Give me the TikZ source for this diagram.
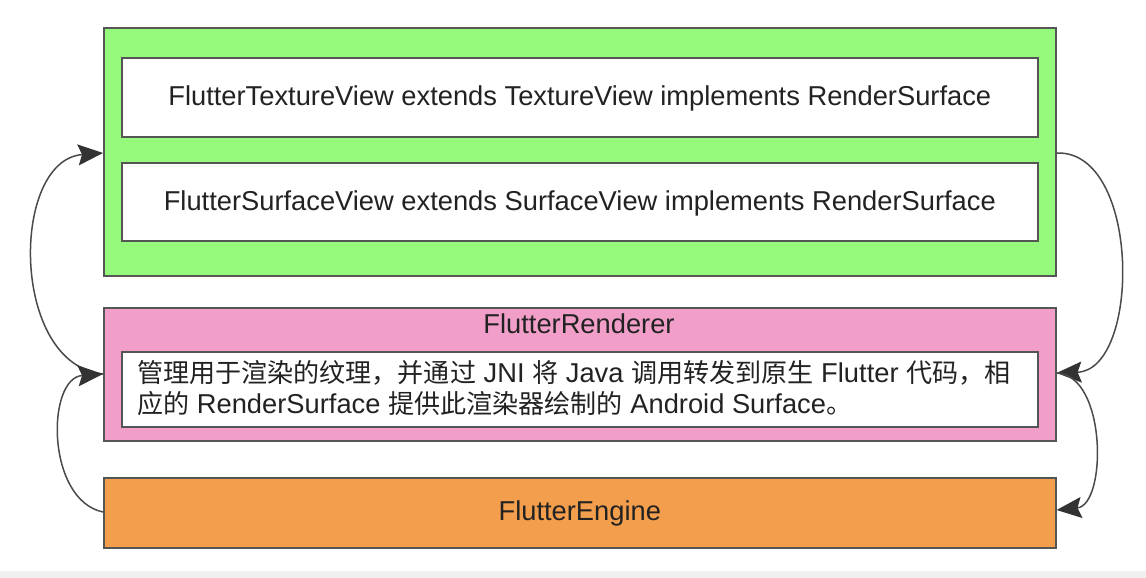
\documentclass[tikz,border=0pt]{standalone}
\usepackage{fontspec}
\setmainfont{Liberation Sans}
\newfontfamily\cjk[Scale=0.955]{Noto Sans CJK SC}
\usetikzlibrary{arrows.meta}
\definecolor{gfill}{HTML}{95F97B}
\definecolor{pfill}{HTML}{F19FC9}
\definecolor{ofill}{HTML}{F29E4C}
\definecolor{edge}{HTML}{555555}
\definecolor{txt}{HTML}{222222}
\definecolor{arr}{HTML}{4A4A4A}
\definecolor{tip}{HTML}{333333}
\definecolor{strip}{HTML}{F0F0F0}
\tikzset{
  box/.style={draw=edge, line width=1.6pt, anchor=north west, inner sep=0pt},
  inbox/.style={box, fill=white},
  lbl/.style={text=txt, font=\fontsize{27.3}{31}\selectfont, inner sep=0pt},
  conn/.style={draw=arr, line width=1.5pt, arrows={-Stealth[length=25pt,width=21pt,inset=4pt,color=tip,fill=tip]}},
}
\begin{document}
\begin{tikzpicture}
\useasboundingbox (0pt,0pt) rectangle (1146pt,-578pt);
\begin{scope}[x=1pt,y=-1pt]
\fill[white] (0,0) rectangle (1146,578);
\fill[strip] (0,571) rectangle (1146,578);
% outer boxes
\node[box, fill=gfill, minimum width=952pt, minimum height=248pt] (green) at (103,27) {};
\node[box, fill=pfill, minimum width=952pt, minimum height=133pt] (pink) at (103,307) {};
\node[box, fill=ofill, minimum width=952pt, minimum height=70pt] (engine) at (103,477) {};
% inner boxes
\node[inbox, minimum width=916pt, minimum height=79pt] (tex) at (121,57) {};
\node[inbox, minimum width=916pt, minimum height=78pt] (surf) at (121,162) {};
\node[inbox, minimum width=916pt, minimum height=75pt] (desc) at (121,351) {};
% labels
\node[lbl, yshift=-1.5pt] (textex) at (tex.center) {FlutterTextureView extends TextureView implements RenderSurface};
\node[lbl, yshift=-1.5pt] (textsurf) at (surf.center) {FlutterSurfaceView extends SurfaceView implements RenderSurface};
\node[lbl] (textrend) at (579,324) {FlutterRenderer};
\node[lbl, yshift=-1pt] (texteng) at (engine.center) {FlutterEngine};
\node[lbl, anchor=west, align=left] (textdesc) at (137,388.5) {{\cjk 管理用于渲染的纹理，并通过} JNI {\cjk 将} Java {\cjk 调用转发到原生} Flutter {\cjk 代码，相}\\{\cjk 应的} RenderSurface {\cjk 提供此渲染器绘制的} Android Surface{\cjk 。}};
% connector end points
\coordinate (pinkL) at ([yshift=-67pt]pink.north west);
\coordinate (greenL) at ([yshift=-126pt]green.north west);
\coordinate (engL) at ([yshift=-35pt]engine.north west);
\coordinate (greenR) at ([yshift=-126pt]green.north east);
\coordinate (pinkR) at ([yshift=-66pt]pink.north east);
\coordinate (engR) at ([yshift=-33pt]engine.north east);
\coordinate (c1) at (10,365);
\coordinate (c2) at (10,160);
\coordinate (c3) at (46,500);
\coordinate (c4) at (46,378);
\coordinate (c5) at (1141,150);
\coordinate (c6) at (1141,370);
\coordinate (c7) at (1107,375);
\coordinate (c8) at (1107,505);
\end{scope}
% connectors
\draw[conn] (pinkL) .. controls (c1) and (c2) .. (greenL);
\draw[conn] (engL) .. controls (c3) and (c4) .. (pinkL);
\draw[conn] (greenR) .. controls (c5) and (c6) .. (pinkR);
\draw[conn] (pinkR) .. controls (c7) and (c8) .. (engR);
\end{tikzpicture}
\end{document}
